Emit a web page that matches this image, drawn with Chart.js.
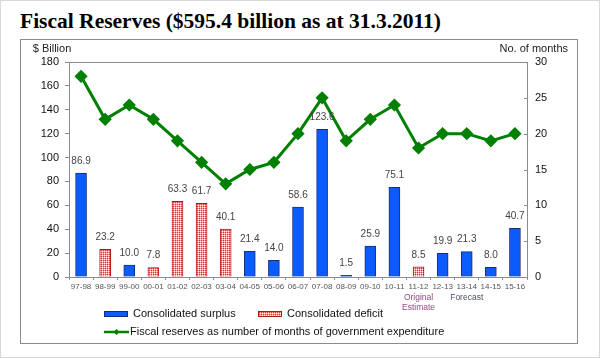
<!DOCTYPE html>
<html>
<head>
<meta charset="utf-8">
<script src="https://cdn.jsdelivr.net/npm/chart.js@4/dist/chart.umd.min.js"></script>
<style>
  html, body { margin: 0; padding: 0; background: #fff; }
  #page { position: relative; width: 600px; height: 358px; box-sizing: border-box; border: 1px solid #d8d8d8; }
  #title { position: absolute; left: 19px; top: 8px; font: bold 21.5px "Liberation Serif", "Times New Roman", serif; color: #000; white-space: nowrap; }
  #box { position: absolute; left: 19px; top: 38px; width: 558px; height: 305px; box-sizing: border-box; border: 1px solid #8c8c8c; }
  #box canvas { position: absolute; left: 0; top: 0; }
</style>
</head>
<body>
<div id="page">
  <div id="title">Fiscal Reserves ($595.4 billion as at 31.3.2011)</div>
  <div id="box"><canvas id="app-chart" width="556" height="303"></canvas></div>
</div>
<script>
const years = ["97-98", "98-99", "99-00", "00-01", "01-02", "02-03", "03-04", "04-05", "05-06", "06-07",
  "07-08", "08-09", "09-10", "10-11", "11-12", "12-13", "13-14", "14-15", "15-16"];
const surplus = [86.9, null, 10.0, null, null, null, null, 21.4, 14.0, 58.6,
  123.6, 1.5, 25.9, 75.1, null, 19.9, 21.3, 8.0, 40.7];
const deficit = [null, 23.2, null, 7.8, 63.3, 61.7, 40.1, null, null, null,
  null, null, null, null, 8.5, null, null, null, null];
const months = [28, 22, 24, 22, 19, 16, 13, 15, 16, 20, 25, 19, 22, 24, 18, 20, 20, 19, 20];
const notes = { "11-12": ["Original", "Estimate"], "13-14": ["Forecast"] };

const blue = "#0b5cff";
const green = "#008000";

// fine red check for the deficit bars
function gridPattern() {
  const c = document.createElement("canvas");
  c.width = 2; c.height = 2;
  const g = c.getContext("2d");
  g.fillStyle = "#ffffff";
  g.fillRect(0, 0, 2, 2);
  g.fillStyle = "#e83535";
  g.fillRect(0, 0, 1, 1);
  g.fillStyle = "#f79494";
  g.fillRect(1, 0, 1, 1);
  g.fillRect(0, 1, 1, 1);
  return g.createPattern(c, "repeat");
}

const extras = {
  id: "extras",
  afterDatasetsDraw(chart) {
    const { ctx, chartArea: a, scales } = chart;
    ctx.save();
    // plot frame
    ctx.strokeStyle = "#8c8c8c";
    ctx.lineWidth = 1;
    ctx.strokeRect(a.left + 0.5, a.top + 0.5, a.right - a.left, a.bottom - a.top);
    // inner ticks of right axis
    scales.y1.ticks.forEach((t) => {
      const y = Math.round(scales.y1.getPixelForValue(t.value)) + 0.5;
      ctx.beginPath();
      ctx.moveTo(a.right - 3, y);
      ctx.lineTo(a.right, y);
      ctx.stroke();
    });
    // value labels over bars
    ctx.font = "10px 'Liberation Sans', Arial, sans-serif";
    ctx.fillStyle = "#444";
    ctx.textAlign = "center";
    ctx.textBaseline = "middle";
    [0, 1].forEach((di) => {
      const meta = chart.getDatasetMeta(di);
      const data = chart.data.datasets[di].data;
      meta.data.forEach((bar, i) => {
        if (data[i] == null) return;
        ctx.fillText(data[i].toFixed(1), bar.x, bar.y - 12);
      });
    });
    ctx.restore();
  },
  afterDraw(chart) {
    const { ctx, scales } = chart;
    ctx.save();
    ctx.font = "11px 'Liberation Sans', Arial, sans-serif";
    ctx.fillStyle = "#222";
    ctx.textBaseline = "middle";
    ctx.textAlign = "center";
    ctx.fillText("$ Billion", 31, 9);
    ctx.textAlign = "right";
    ctx.fillText("No. of months", 547, 9);

    // notes under some years
    ctx.font = "8.5px 'Liberation Sans', Arial, sans-serif";
    ctx.textAlign = "center";
    years.forEach((yr, i) => {
      if (!notes[yr]) return;
      const x = scales.x.getPixelForValue(i);
      ctx.fillStyle = yr === "11-12" ? "#8e4a82" : "#4a5068";
      notes[yr].forEach((line, k) => ctx.fillText(line, x, 258 + k * 10));
    });

    // legend
    const ds = chart.data.datasets;
    ctx.font = "11px 'Liberation Sans', Arial, sans-serif";
    ctx.fillStyle = "#111";
    ctx.textAlign = "left";
    const items = [
      { d: ds[0], x: 83, y: 274 },
      { d: ds[1], x: 237, y: 274 },
      { d: ds[2], x: 83, y: 292 },
    ];
    items.forEach(({ d, x, y }) => {
      if (d.type === "line") {
        ctx.strokeStyle = d.borderColor;
        ctx.lineWidth = 2.5;
        ctx.beginPath();
        ctx.moveTo(x, y);
        ctx.lineTo(x + 25, y);
        ctx.stroke();
        ctx.fillStyle = d.borderColor;
        ctx.beginPath();
        ctx.moveTo(x + 12.5, y - 3);
        ctx.lineTo(x + 15.5, y);
        ctx.lineTo(x + 12.5, y + 3);
        ctx.lineTo(x + 9.5, y);
        ctx.closePath();
        ctx.fill();
        ctx.fillStyle = "#111";
        ctx.fillText(d.label, x + 26, y);
      } else {
        ctx.fillStyle = d.backgroundColor;
        ctx.fillRect(x, y - 2.5, 23, 5);
        ctx.strokeStyle = d.borderColor;
        ctx.lineWidth = 1;
        ctx.strokeRect(x + 0.5, y - 2.5, 23, 5);
        ctx.fillStyle = "#111";
        ctx.fillText(d.label, x + 29, y);
      }
    });
    ctx.restore();
  },
};

const ctx = document.querySelector("#app-chart").getContext("2d");

new Chart(ctx, {
  data: {
    labels: years,
    datasets: [
      {
        type: "bar",
        label: "Consolidated surplus",
        data: surplus,
        backgroundColor: blue,
        borderColor: "#1b2b7a",
        borderWidth: 1,
        barThickness: 11,
        grouped: false,
        yAxisID: "y",
        order: 2,
      },
      {
        type: "bar",
        label: "Consolidated deficit",
        data: deficit,
        backgroundColor: gridPattern(),
        borderColor: "#b01818",
        borderWidth: 1,
        barThickness: 11,
        grouped: false,
        yAxisID: "y",
        order: 2,
      },
      {
        type: "line",
        label: "Fiscal reserves as number of months of government expenditure",
        data: months,
        borderColor: green,
        backgroundColor: green,
        borderWidth: 3,
        tension: 0,
        pointStyle: "rectRot",
        pointRadius: 4.5,
        pointBackgroundColor: green,
        pointBorderColor: green,
        yAxisID: "y1",
        order: 1,
      },
    ],
  },
  options: {
    responsive: false,
    animation: false,
    layout: { padding: { top: 22, left: 0, right: 0, bottom: 0 } },
    plugins: {
      legend: { display: false },
      tooltip: { enabled: false },
    },
    scales: {
      x: {
        offset: true,
        grid: { drawOnChartArea: false, tickLength: 3, color: "#8c8c8c", offset: true },
        border: { color: "#8c8c8c" },
        ticks: {
          font: { size: 8, family: "'Liberation Sans', Arial, sans-serif" },
          color: "#555",
          padding: 2,
          maxRotation: 0,
          autoSkip: false,
        },
        afterFit(scale) { scale.height = 66; },
      },
      y: {
        position: "left",
        min: 0,
        max: 180,
        ticks: {
          stepSize: 20,
          font: { size: 11, family: "'Liberation Sans', Arial, sans-serif" },
          color: "#111",
          padding: 6,
        },
        grid: { drawOnChartArea: false, tickLength: 4, color: "#8c8c8c" },
        border: { color: "#8c8c8c" },
        afterFit(scale) { scale.width = 48; },
      },
      y1: {
        position: "right",
        min: 0,
        max: 30,
        ticks: {
          stepSize: 5,
          font: { size: 11, family: "'Liberation Sans', Arial, sans-serif" },
          color: "#111",
          padding: 8,
        },
        grid: { drawOnChartArea: false, drawTicks: false },
        border: { color: "#8c8c8c" },
        afterFit(scale) { scale.width = 50; },
      },
    },
  },
  plugins: [extras],
});
</script>
</body>
</html>
